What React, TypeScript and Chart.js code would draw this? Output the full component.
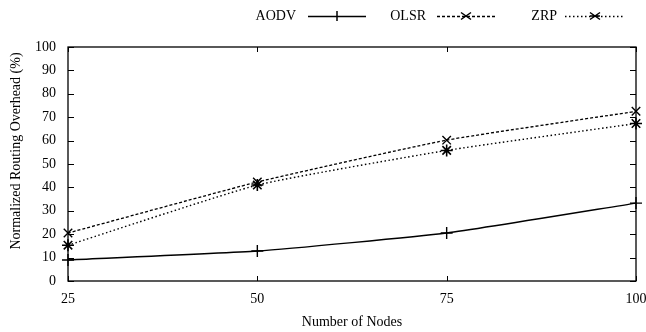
import React, { useEffect, useRef } from "react";
import { Chart, registerables } from "chart.js";

Chart.register(...registerables);

const nodes = [25, 50, 75, 100];
const aodv = [9, 12.8, 20.5, 33.3];
const olsr = [20.5, 42.3, 60.2, 72.5];
const zrp = [15.3, 41, 55.8, 67.3];
const yTicks = [0, 10, 20, 30, 40, 50, 60, 70, 80, 90, 100];
const xTicks = [25, 50, 75, 100];
const seriesNames = ["AODV", "OLSR", "ZRP"];

const FONT = "'Liberation Serif', 'DejaVu Serif', serif";

const framePlugin = {
  id: "frame",
  afterDatasetsDraw(chart: any) {
    const { ctx, chartArea: a, scales } = chart;
    ctx.save();
    ctx.strokeStyle = "#000";
    ctx.lineWidth = 1.3;
    ctx.strokeRect(a.left, a.top, a.right - a.left, a.bottom - a.top);
    ctx.lineWidth = 1;
    const ys = scales.y;
    yTicks.forEach((v) => {
      const py = Math.round(ys.getPixelForValue(v)) + 0.5;
      ctx.beginPath();
      ctx.moveTo(a.left, py);
      ctx.lineTo(a.left + 6, py);
      ctx.moveTo(a.right, py);
      ctx.lineTo(a.right - 6, py);
      ctx.stroke();
    });
    const xs = scales.x;
    xTicks.forEach((v) => {
      const px = Math.round(xs.getPixelForValue(v)) + 0.5;
      ctx.beginPath();
      ctx.moveTo(px, a.bottom);
      ctx.lineTo(px, a.bottom - 5);
      ctx.moveTo(px, a.top);
      ctx.lineTo(px, a.top + 5);
      ctx.stroke();
    });
    // axis titles
    ctx.fillStyle = "#000";
    ctx.font = `14px ${FONT}`;
    ctx.textAlign = "center";
    ctx.textBaseline = "middle";
    ctx.fillText("Number of Nodes", (a.left + a.right) / 2, 322);
    ctx.save();
    ctx.translate(16, 151);
    ctx.rotate(-Math.PI / 2);
    ctx.fillText("Normalized Routing Overhead (%)", 0, 0);
    ctx.restore();
    // legend
    const entries = [
      { text: seriesNames[0], textRight: 296, x1: 308, x2: 366, dash: [], style: "cross" },
      { text: seriesNames[1], textRight: 426, x1: 437, x2: 495, dash: [3, 2], style: "crossRot" },
      { text: seriesNames[2], textRight: 557, x1: 565, x2: 625, dash: [1.5, 2.5], style: "star" },
    ];
    const ly = 16;
    entries.forEach((e) => {
      ctx.textAlign = "right";
      ctx.fillText(e.text, e.textRight, ly);
      ctx.beginPath();
      ctx.setLineDash(e.dash);
      ctx.lineWidth = 1.3;
      ctx.moveTo(e.x1, ly + 0.5);
      ctx.lineTo(e.x2, ly + 0.5);
      ctx.stroke();
      ctx.setLineDash([]);
      const cx = (e.x1 + e.x2) / 2;
      ctx.lineWidth = 1.5;
      ctx.beginPath();
      const r = 5;
      if (e.style === "cross") {
        ctx.moveTo(cx, ly - r);
        ctx.lineTo(cx, ly + r);
      } else if (e.style === "crossRot") {
        ctx.moveTo(cx - r, ly - r * 0.7);
        ctx.lineTo(cx + r, ly + r * 0.7);
        ctx.moveTo(cx - r, ly + r * 0.7);
        ctx.lineTo(cx + r, ly - r * 0.7);
      } else {
        ctx.moveTo(cx - r, ly - r * 0.7);
        ctx.lineTo(cx + r, ly + r * 0.7);
        ctx.moveTo(cx - r, ly + r * 0.7);
        ctx.lineTo(cx + r, ly - r * 0.7);
        ctx.moveTo(cx - r, ly);
        ctx.lineTo(cx + r, ly);
      }
      ctx.stroke();
    });
    ctx.restore();
  },
};

export default function App() {
  const ref = useRef<HTMLCanvasElement>(null);
  useEffect(() => {
    document.body.style.margin = "0";
    const ctx = ref.current!;
    const mk = (data: number[]) => nodes.map((x, i) => ({ x, y: data[i] }));
    const chart = new Chart(ctx, {
      type: "line",
      data: {
        datasets: [
          {
            label: seriesNames[0],
            data: mk(aodv),
            borderColor: "#000",
            borderWidth: 1.4,
            pointStyle: "cross",
            pointRadius: 6,
            pointBorderWidth: 1.4,
            tension: 0.15,
            clip: false,
          },
          {
            label: seriesNames[1],
            data: mk(olsr),
            borderColor: "#000",
            borderWidth: 1.3,
            borderDash: [3, 2],
            pointStyle: "crossRot",
            pointRadius: 6,
            pointBorderWidth: 1.4,
            tension: 0.15,
            clip: false,
          },
          {
            label: seriesNames[2],
            data: mk(zrp),
            borderColor: "#000",
            borderWidth: 1.4,
            borderDash: [1.5, 2.5],
            pointStyle: "star",
            pointRadius: 6,
            pointBorderWidth: 1.6,
            tension: 0.15,
            clip: false,
          },
        ],
      },
      options: {
        responsive: false,
        animation: false,
        layout: { autoPadding: false, padding: { top: 47, right: 10, left: 0, bottom: 0 } },
        plugins: { legend: { display: false }, tooltip: { enabled: false } },
        scales: {
          x: {
            type: "linear",
            min: 25,
            max: 100,
            grid: { display: false, drawTicks: false },
            border: { display: false },
            afterBuildTicks: (s: any) => {
              s.ticks = xTicks.map((v) => ({ value: v }));
            },
            afterFit: (s: any) => {
              s.height = 51;
              s.paddingLeft = 0;
              s.paddingRight = 0;
            },
            ticks: {
              color: "#000",
              font: { family: FONT, size: 14 },
              padding: 10,
              maxRotation: 0,
            },
          },
          y: {
            min: 0,
            max: 100,
            grid: { display: false, drawTicks: false },
            border: { display: false },
            afterBuildTicks: (s: any) => {
              s.ticks = yTicks.map((v) => ({ value: v }));
            },
            afterFit: (s: any) => {
              s.width = 68;
              s.paddingTop = 0;
              s.paddingBottom = 0;
            },
            ticks: {
              color: "#000",
              font: { family: FONT, size: 14 },
              padding: 12,
            },
          },
        },
      },
      plugins: [framePlugin],
    });
    return () => chart.destroy();
  }, []);
  return <canvas ref={ref} width={646} height={332} />;
}
